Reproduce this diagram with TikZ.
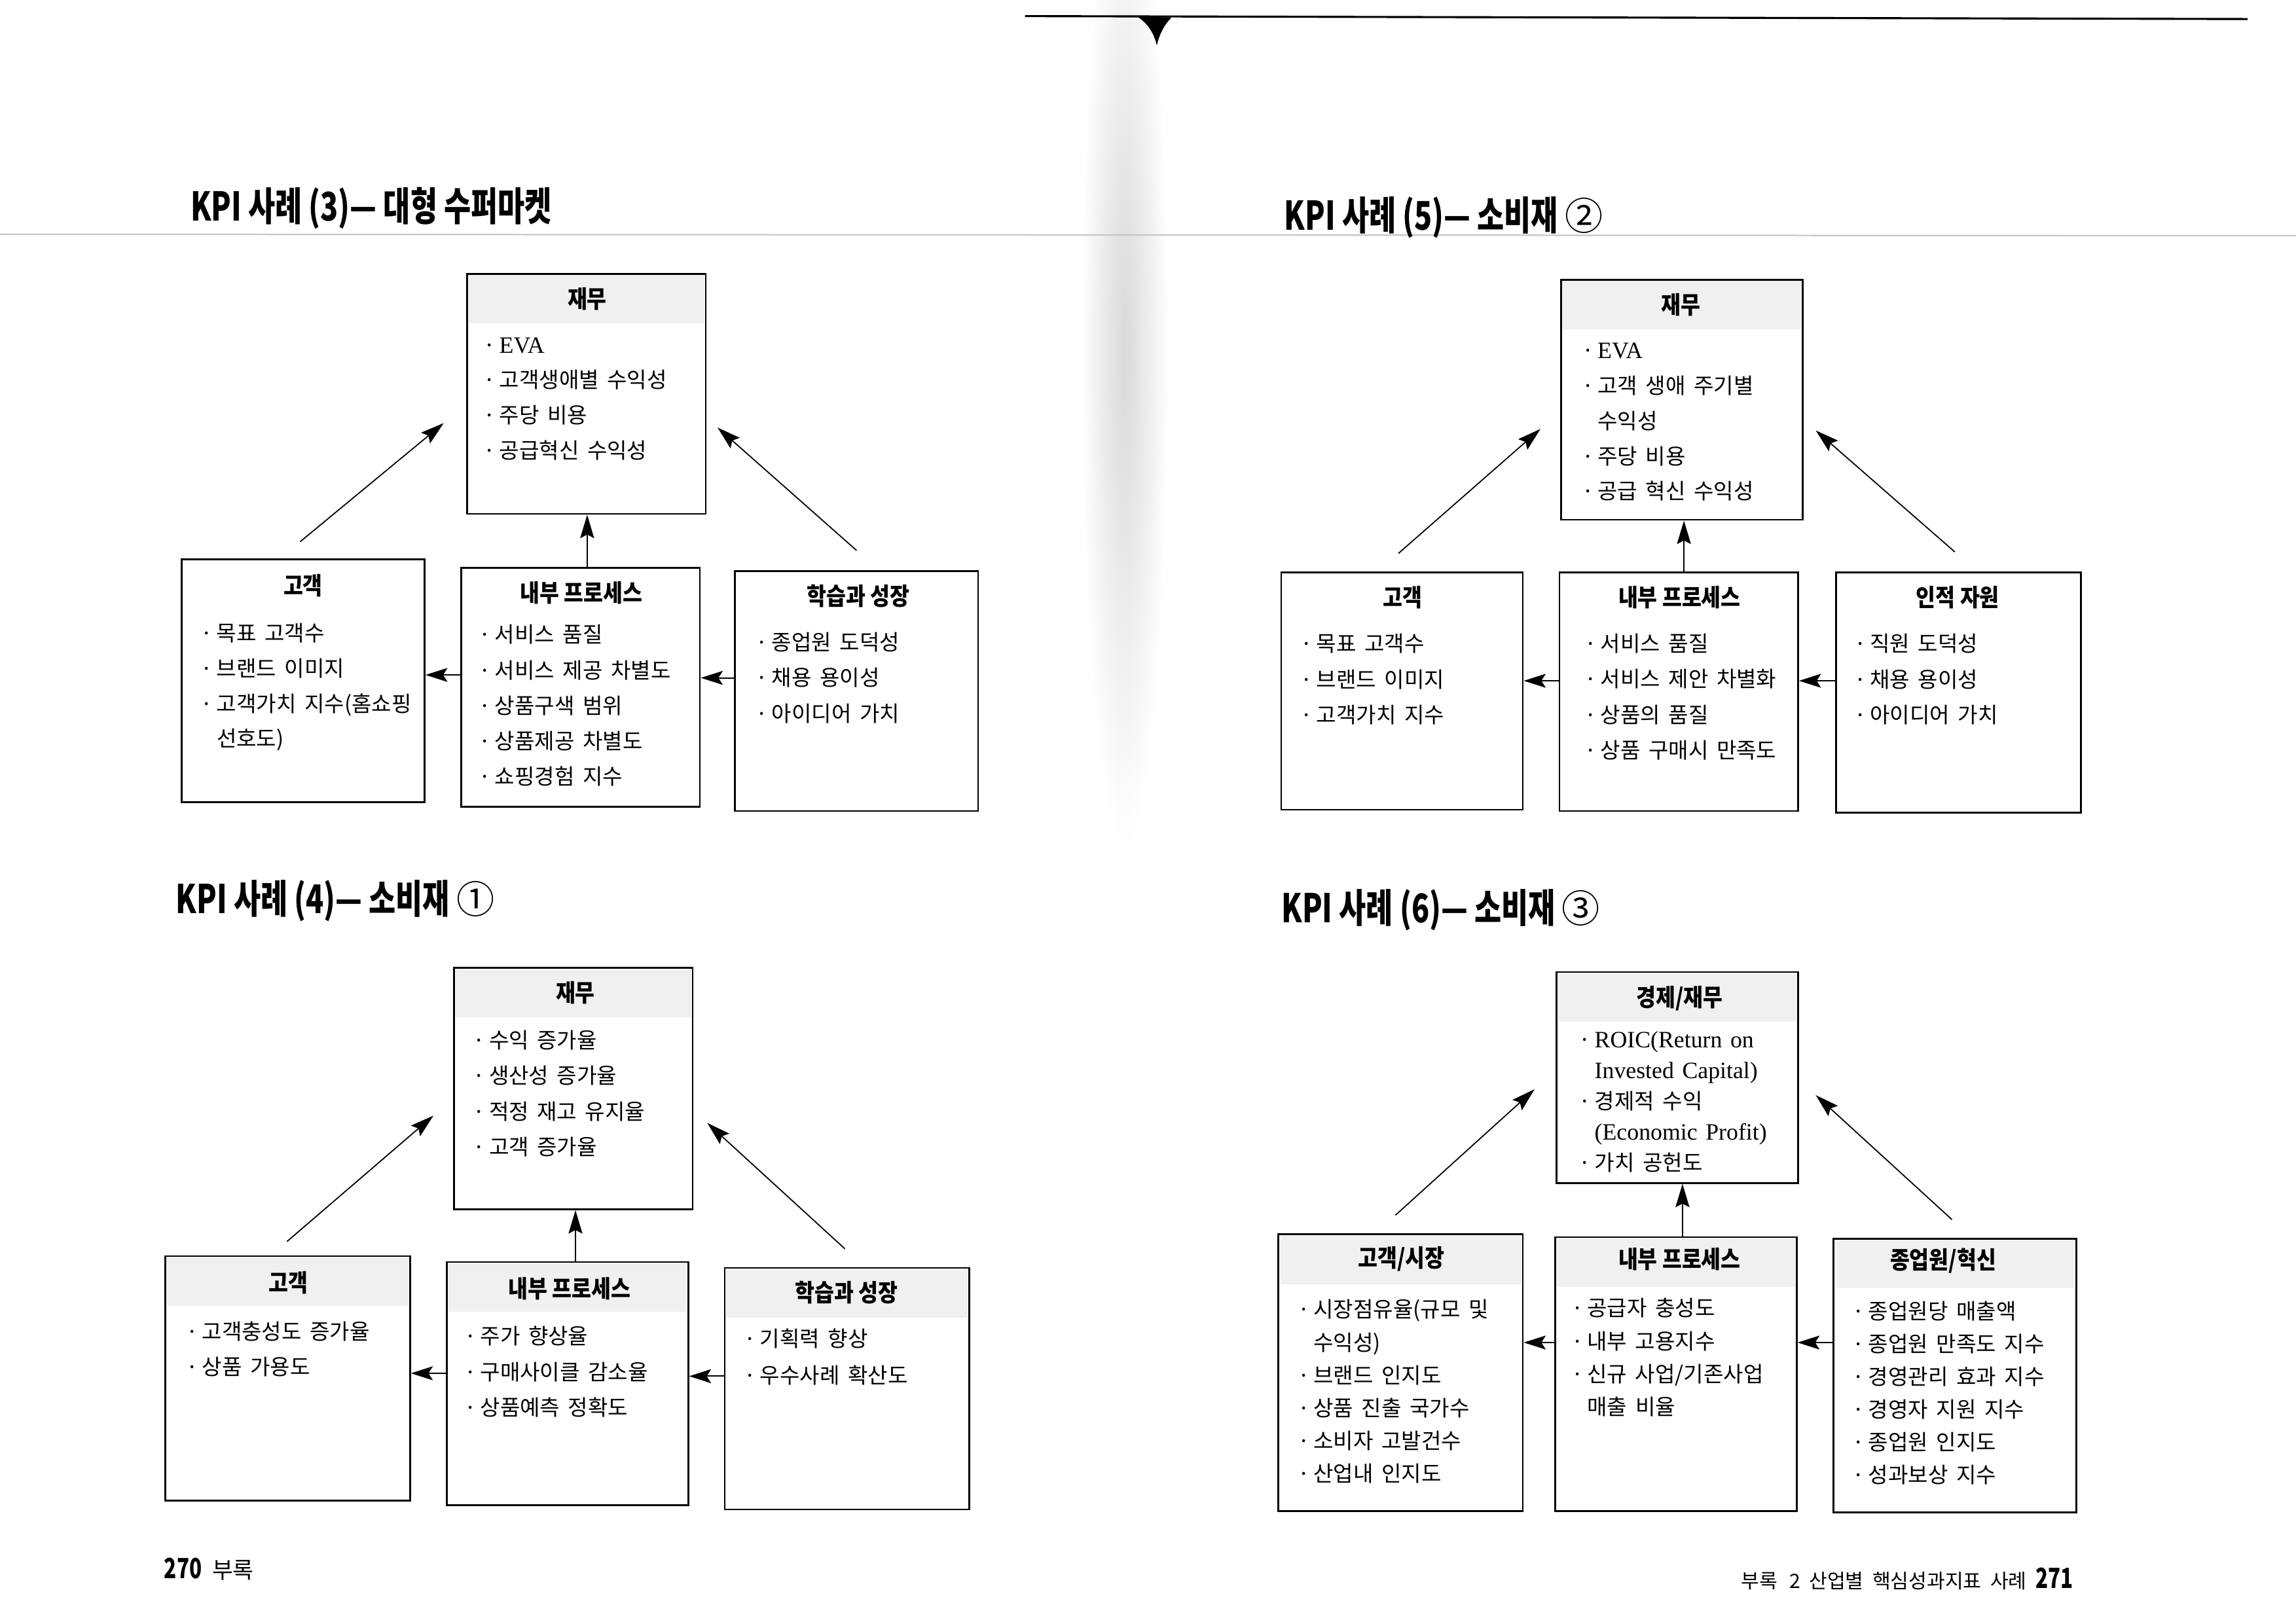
\documentclass[tikz,border=0pt]{standalone}
\usepackage{fontspec}
\usetikzlibrary{arrows.meta,fit}
\setmainfont{Noto Sans CJK KR}
\newfontfamily\krbody{Noto Sans CJK KR}
\newfontfamily\krhead{Noto Sans CJK KR}[FakeStretch=0.88]
\newfontfamily\krtitle{Noto Sans CJK KR}[FakeStretch=0.74]
\newfontfamily\latser{Liberation Serif}
\newcommand\kbul{·\hspace{2.5pt}}
\newcommand\kind{\hphantom{\kbul}}
\newcommand\itemfont{\krbody\fontsize{14.8}{18}\selectfont\spaceskip 0.38em\relax}
\newcommand\headfont{\krhead\bfseries\fontsize{16.5}{18}\selectfont}
\newcommand\bigtitlefont{\krtitle\bfseries\fontsize{27}{29}\selectfont}
\newcommand\circfont{\normalfont\fontsize{26}{26}\selectfont}
\newcommand\footfont{\krbody\fontsize{13.5}{16}\selectfont}
\newcommand\footnum{\krtitle\bfseries\fontsize{19}{20}\selectfont}
\newcommand\latline{\latser\fontsize{16}{18}\selectfont}
\newcommand\kitems[5]{\foreach \kt [count=\ki] in {#5}{\node[item] (#1\ki) at (#2,{#3+5+(\ki-1)*#4}) {\kt};}}
\tikzset{
  box/.style={draw, line width=1.2pt, inner sep=0pt, fill=white},
  hbox/.style={box, path picture={\fill[gray!12] ([xshift=1pt,yshift=-1pt]path picture bounding box.north west) rectangle ([xshift=-1pt,yshift=-34pt]path picture bounding box.north east);}},
  htitle/.style={inner sep=0pt, font=\headfont},
  item/.style={anchor=base west, inner sep=0pt, font=\itemfont},
  ptitle/.style={anchor=base west, inner sep=0pt, font=\bigtitlefont},
  arr/.style={-{Stealth[length=16pt,width=9.5pt,inset=2.5pt]}, line width=0.8pt},
  harr/.style={-{Stealth[length=15pt,width=9.5pt,inset=3pt]}, line width=0.9pt},
  foot/.style={anchor=base west, inner sep=0pt, font=\footfont}
}
\begin{document}
\begin{tikzpicture}[x=1pt,y=-1pt]
\useasboundingbox (0,0) rectangle (1568,1109);
\fill[white] (0,0) rectangle (1568,1109);
% page features
\shade[inner color=gray!30, outer color=white] (768,240) ellipse [x radius=30, y radius=340];
\draw[line width=1.4pt] (700,11) -- (1535,13);
\fill (776,11) -- (800,12) .. controls (795,17) and (792,23) .. (790,31) .. controls (788,22) and (783,15) .. cycle;
\draw[gray!45, line width=1pt] (0,160) -- (1568,161);

% ================= Diagram 1 =================
\node[ptitle] (t1) at (130,151) {KPI 사례 (3)— 대형 수퍼마켓};
\node[hbox, fit={(319,187) (482,351)}] (f1) {};
\node[box, fit={(124,382) (290,548)}] (c1) {};
\node[box, fit={(315,388) (478,551)}] (p1) {};
\node[box, fit={(502,390) (668,554)}] (l1) {};
\node[htitle] (f1t) at (401,204) {재무};
\node[htitle] (c1t) at (207,400) {고객};
\node[htitle] (p1t) at (397,405) {내부 프로세스};
\node[htitle] (l1t) at (586,407) {학습과 성장};
\kitems{f1i}{330}{236}{24}{\kbul{\latline EVA}, \kbul 고객생애별 수익성, \kbul 주당 비용, \kbul 공급혁신 수익성}
\kitems{c1i}{137}{433}{24}{\kbul 목표 고객수, \kbul 브랜드 이미지, \kbul 고객가치 지수(홈쇼핑, \kind 선호도)}
\kitems{p1i}{327}{434}{24.2}{\kbul 서비스 품질, \kbul 서비스 제공 차별도, \kbul 상품구색 범위, \kbul 상품제공 차별도, \kbul 쇼핑경험 지수}
\kitems{l1i}{516}{439}{24.5}{\kbul 종업원 도덕성, \kbul 채용 용이성, \kbul 아이디어 가치}
\coordinate (a1s) at (205,370); \coordinate (a1e) at (303,289);
\coordinate (b1s) at (585,376); \coordinate (b1e) at (490,292);
\draw[arr] (a1s) -- (a1e);
\draw[arr] (b1s) -- (b1e);
\draw[arr] (401,0 |- p1.north) -- (401,0 |- f1.south);
\draw[harr] (p1.west |- 0,461) -- (c1.east |- 0,461);
\draw[harr] (l1.west |- 0,463) -- (p1.east |- 0,463);

% ================= Diagram 2 =================
\node[ptitle] (t2) at (877,157) {KPI 사례 (5)— 소비재 {\circfont ②}};
\node[hbox, fit={(1066,191) (1231,355)}] (f2) {};
\node[box, fit={(875,391) (1040,553)}] (c2) {};
\node[box, fit={(1065,391) (1228,554)}] (p2) {};
\node[box, fit={(1254,391) (1421,555)}] (h2) {};
\node[htitle] (f2t) at (1148,208) {재무};
\node[htitle] (c2t) at (958,408) {고객};
\node[htitle] (p2t) at (1147,408) {내부 프로세스};
\node[htitle] (h2t) at (1337,408) {인적 자원};
\kitems{f2i}{1080}{240}{24}{\kbul{\latline EVA}, \kbul 고객 생애 주기별, \kind 수익성, \kbul 주당 비용, \kbul 공급 혁신 수익성}
\kitems{c2i}{888}{440}{24.5}{\kbul 목표 고객수, \kbul 브랜드 이미지, \kbul 고객가치 지수}
\kitems{p2i}{1082}{440}{24.3}{\kbul 서비스 품질, \kbul 서비스 제안 차별화, \kbul 상품의 품질, \kbul 상품 구매시 만족도}
\kitems{h2i}{1266}{440}{24.5}{\kbul 직원 도덕성, \kbul 채용 용이성, \kbul 아이디어 가치}
\coordinate (a2s) at (955,378); \coordinate (a2e) at (1052,293);
\coordinate (b2s) at (1335,377); \coordinate (b2e) at (1240,294);
\draw[arr] (a2s) -- (a2e);
\draw[arr] (b2s) -- (b2e);
\draw[arr] (1150,0 |- p2.north) -- (1150,0 |- f2.south);
\draw[harr] (p2.west |- 0,465) -- (c2.east |- 0,465);
\draw[harr] (h2.west |- 0,465) -- (p2.east |- 0,465);

% ================= Diagram 3 =================
\node[ptitle] (t3) at (120,624) {KPI 사례 (4)— 소비재 {\circfont ①}};
\node[hbox, fit={(310,661) (473,826)}] (f3) {};
\node[hbox, fit={(113,858) (280,1025)}] (c3) {};
\node[hbox, fit={(305,862) (470,1028)}] (p3) {};
\node[hbox, fit={(495,866) (662,1031)}] (l3) {};
\node[htitle] (f3t) at (393,678) {재무};
\node[htitle] (c3t) at (197,876) {고객};
\node[htitle] (p3t) at (389,880) {내부 프로세스};
\node[htitle] (l3t) at (578,883) {학습과 성장};
\kitems{f3i}{323}{711}{24.3}{\kbul 수익 증가율, \kbul 생산성 증가율, \kbul 적정 재고 유지율, \kbul 고객 증가율}
\kitems{c3i}{127}{910}{24}{\kbul 고객충성도 증가율, \kbul 상품 가용도}
\kitems{p3i}{317}{913}{24.5}{\kbul 주가 향상율, \kbul 구매사이클 감소율, \kbul 상품예측 정확도}
\kitems{l3i}{508}{915}{25}{\kbul 기획력 향상, \kbul 우수사례 확산도}
\coordinate (a3s) at (196,848); \coordinate (a3e) at (296,762);
\coordinate (b3s) at (577,853); \coordinate (b3e) at (483,767);
\draw[arr] (a3s) -- (a3e);
\draw[arr] (b3s) -- (b3e);
\draw[arr] (393,0 |- p3.north) -- (393,0 |- f3.south);
\draw[harr] (p3.west |- 0,938) -- (c3.east |- 0,938);
\draw[harr] (l3.west |- 0,940) -- (p3.east |- 0,940);

% ================= Diagram 4 =================
\node[ptitle] (t4) at (875,630) {KPI 사례 (6)— 소비재 {\circfont ③}};
\node[hbox, fit={(1063,664) (1228,808)}] (f4) {};
\node[hbox, fit={(873,843) (1040,1032)}] (c4) {};
\node[hbox, fit={(1062,845) (1227,1032)}] (p4) {};
\node[hbox, fit={(1252,846) (1418,1033)}] (e4) {};
\node[htitle] (f4t) at (1147,682) {경제/재무};
\node[htitle] (c4t) at (957,860) {고객/시장};
\node[htitle] (p4t) at (1147,860) {내부 프로세스};
\node[htitle] (e4t) at (1327,861) {종업원/혁신};
\kitems{f4i}{1078}{710.5}{21}{\kbul{\latline ROIC(Return on}, \kind{\latline Invested Capital)}, \kbul 경제적 수익, \kind{\latline (Economic Profit)}, \kbul 가치 공헌도}
\kitems{c4i}{886}{895}{22.4}{\kbul 시장점유율(규모 및, \kind 수익성), \kbul 브랜드 인지도, \kbul 상품 진출 국가수, \kbul 소비자 고발건수, \kbul 산업내 인지도}
\kitems{p4i}{1073}{894}{22.5}{\kbul 공급자 충성도, \kbul 내부 고용지수, \kbul 신규 사업/기존사업, \kind 매출 비율}
\kitems{e4i}{1265}{896}{22.4}{\kbul 종업원당 매출액, \kbul 종업원 만족도 지수, \kbul 경영관리 효과 지수, \kbul 경영자 지원 지수, \kbul 종업원 인지도, \kbul 성과보상 지수}
\coordinate (a4s) at (953,830); \coordinate (a4e) at (1048,744);
\coordinate (b4s) at (1333,833); \coordinate (b4e) at (1240,748);
\draw[arr] (a4s) -- (a4e);
\draw[arr] (b4s) -- (b4e);
\draw[arr] (1149,0 |- p4.north) -- (1149,0 |- f4.south);
\draw[harr] (p4.west |- 0,917) -- (c4.east |- 0,917);
\draw[harr] (e4.west |- 0,917) -- (p4.east |- 0,917);

% ================= Footers =================
\node[foot] (pgl) at (112,1078) {{\footnum 270}\hspace{7pt}{\fontsize{15.5}{18}\selectfont 부록}};
\node[foot, anchor=base east] (pgr) at (1416,1085) {부록\hspace{8pt}2\hspace{6pt}산업별\hspace{6pt}핵심성과지표\hspace{6pt}사례\hspace{6pt}{\footnum 271}};
\end{tikzpicture}
\end{document}
